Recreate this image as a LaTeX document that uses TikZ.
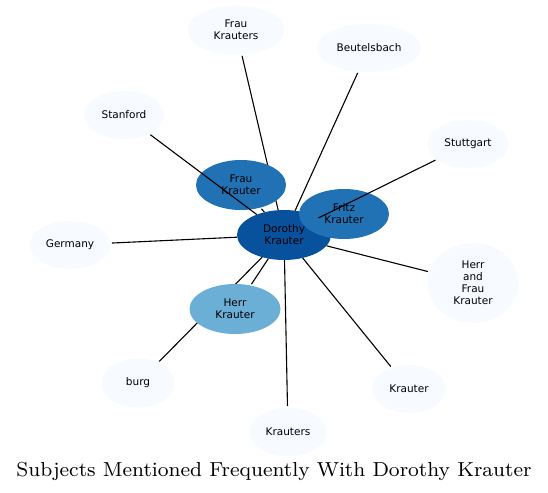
\documentclass[tikz,border=0pt]{standalone}
\usepackage{fontspec}
\newfontfamily\labelfont{DejaVu Sans}
\usetikzlibrary{shapes.geometric, backgrounds}

\definecolor{darkblue}{HTML}{08519C}
\definecolor{midblue}{HTML}{2171B5}
\definecolor{lightblue}{HTML}{6BAED6}
\definecolor{paleblue}{HTML}{F7FBFF}

\tikzset{
  subj/.style={ellipse, fill=paleblue, inner sep=0pt, outer sep=1.5pt,
    align=center, font=\labelfont\fontsize{10.5}{12}\selectfont},
  link/.style={line width=1.1pt, black},
}

\begin{document}
\begin{tikzpicture}[x=1pt, y=-1pt]

\path[use as bounding box] (0,0) rectangle (548,492);

% outer ring
\node[subj, minimum width=97, minimum height=49] (fks) at (236,30) {Frau\\Krauters};
\node[subj, minimum width=104, minimum height=48] (beu) at (369,48) {Beutelsbach};
\node[subj, minimum width=80, minimum height=48] (sta) at (124,115) {Stanford};
\node[subj, minimum width=81, minimum height=48] (stu) at (468,144) {Stuttgart};
\node[subj, minimum width=81, minimum height=48] (ger) at (70,245) {Germany};
\node[subj, minimum width=91, minimum height=80] (hfk) at (473,283) {Herr\\and\\Frau\\Krauter};
\node[subj, minimum width=73, minimum height=49] (bur) at (138,383) {burg};
\node[subj, minimum width=74, minimum height=48] (kr) at (409,389) {Krauter};
\node[subj, minimum width=77, minimum height=49] (krs) at (288,432) {Krauters};

% inner nodes
\node[subj, fill=darkblue, outer sep=0pt, minimum width=94, minimum height=50] (dk) at (284,235) {Dorothy\\Krauter};
\node[subj, fill=midblue, minimum width=90, minimum height=50] (fri) at (344,214) {Fritz\\Krauter};
\node[subj, fill=midblue, minimum width=90, minimum height=50] (fkr) at (241,185) {Frau\\Krauter};
\node[subj, fill=lightblue, minimum width=91, minimum height=50] (hk) at (235,309) {Herr\\Krauter};

\begin{pgfonlayer}{background}
\foreach \n in {fks,beu,ger,hfk,bur,kr,krs,fkr,hk,fri}
  \draw[link] (dk) -- (\n);
\end{pgfonlayer}

\foreach \n in {sta,stu}
  \draw[link] (dk) -- (\n);

\node[anchor=base, inner sep=0pt] (title) at (274,476)
  {\resizebox{515pt}{!}{\fontsize{8}{10}\selectfont Subjects Mentioned Frequently With Dorothy Krauter}};

\end{tikzpicture}
\end{document}
